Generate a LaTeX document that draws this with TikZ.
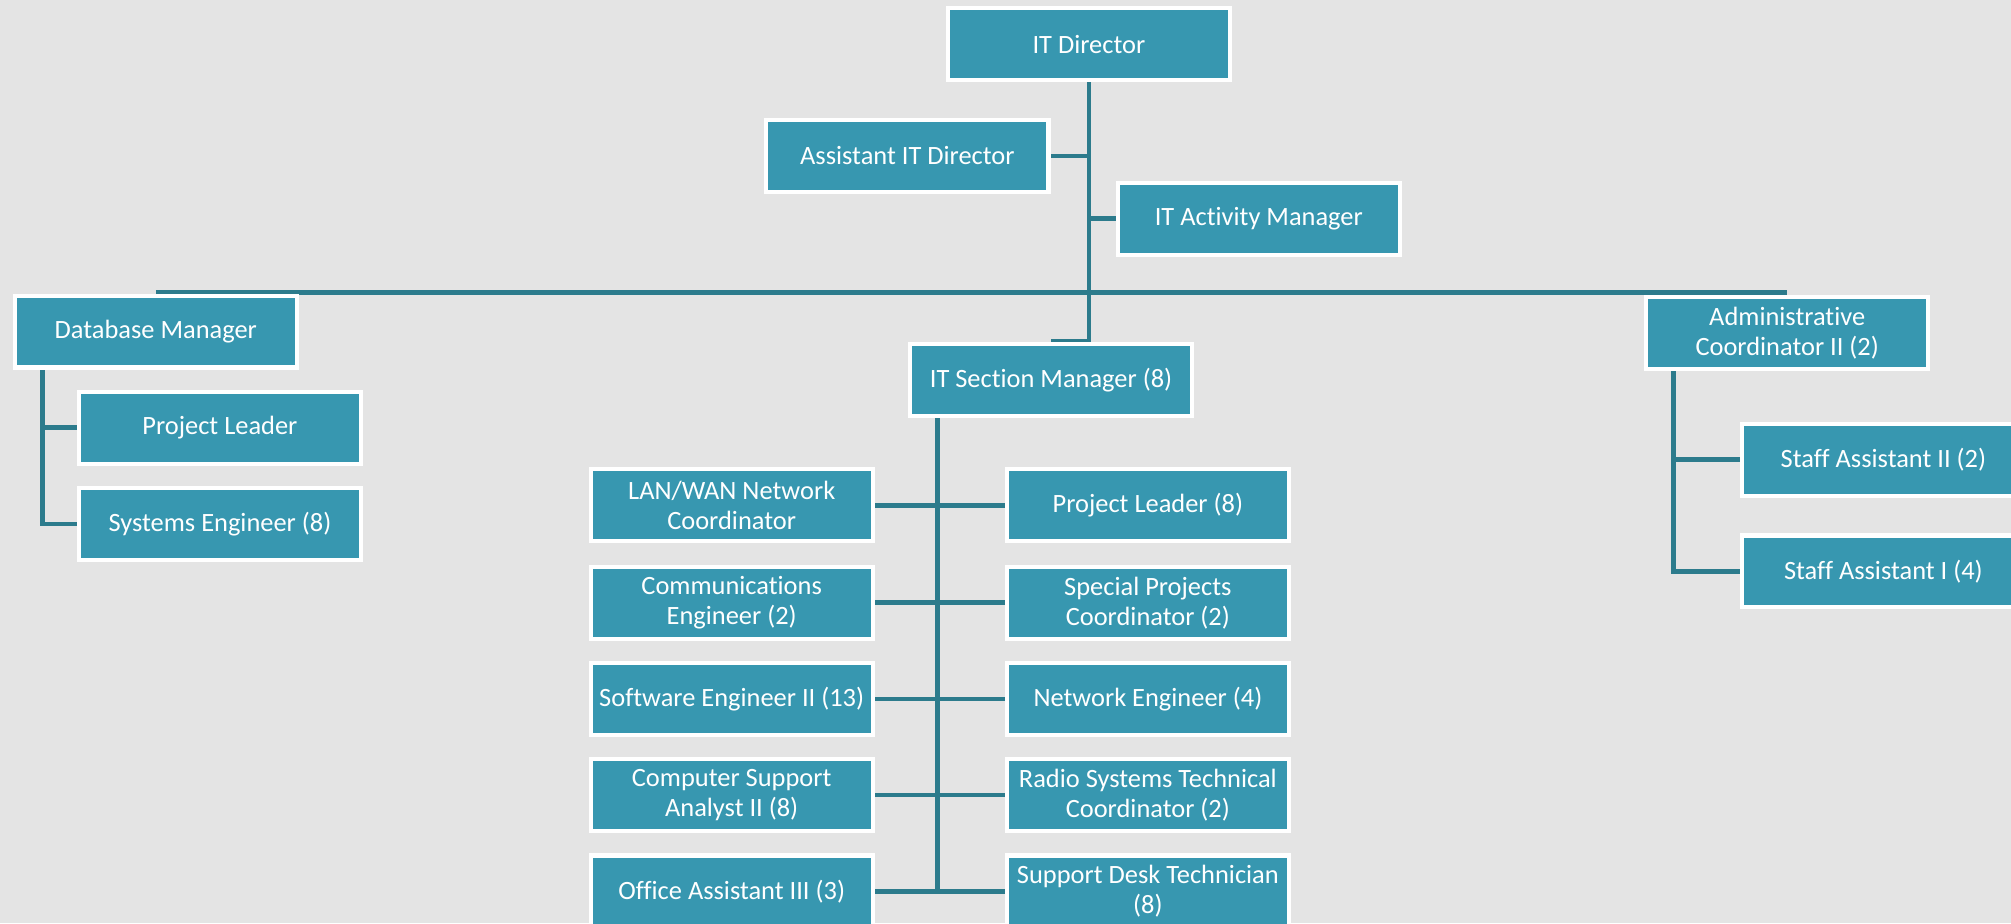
\documentclass[tikz,border=0pt]{standalone}
\usepackage{fontspec}
\setmainfont{Carlito}[Ligatures=NoCommon]
\definecolor{boxteal}{HTML}{3797B0}
\definecolor{lineteal}{HTML}{2C7B8C}
\definecolor{bggray}{HTML}{E4E4E4}
\pgfdeclarelayer{bg}
\pgfdeclarelayer{lines}
\pgfsetlayers{bg,lines,main}
\tikzset{
  orgbox/.style={draw=white, line width=1.6pt, fill=boxteal, text=white,
    minimum width=110pt, minimum height=28pt, inner sep=0pt, align=center,
    font=\fontsize{10.3}{11.6}\selectfont},
  conn/.style={draw=lineteal, line width=1.8pt}
}
\begin{document}
\begin{tikzpicture}[x=0.5pt,y=-0.5pt]
\useasboundingbox (0,0) rectangle (1568,720);
\clip (0,0) rectangle (1568,720);
\begin{pgfonlayer}{bg}
\fill[bggray] (0,0) rectangle (1568,720);
\end{pgfonlayer}

\node[orgbox] (dir)  at (849,34.5)   {IT Director};
\node[orgbox] (asst) at (707.5,121.5) {Assistant IT Director};
\node[orgbox] (act)  at (981.5,170.5) {IT Activity Manager};
\node[orgbox] (db)   at (121.5,258.5) {Database Manager};
\node[orgbox] (sec)  at (819.5,296)   {IT Section Manager (8)};
\node[orgbox] (adm)  at (1393.5,259.5) {Administrative\\Coordinator II (2)};
\node[orgbox] (pl1)  at (171.5,333.5) {Project Leader};
\node[orgbox] (se1)  at (171.5,408.5) {Systems Engineer (8)};
\node[orgbox] (sa2)  at (1468.5,358.5) {Staff Assistant II (2)};
\node[orgbox] (sa1)  at (1468.5,445.5) {Staff Assistant I (4)};

\node[orgbox] (l1) at (570.5,394) {LAN/WAN Network\\Coordinator};
\node[orgbox] (l2) at (570.5,470) {Communications\\Engineer (2)};
\node[orgbox] (l3) at (570.5,545) {Software Engineer II (13)};
\node[orgbox] (l4) at (570.5,620) {Computer Support\\Analyst II (8)};
\node[orgbox] (l5) at (570.5,695) {Office Assistant III (3)};
\node[orgbox] (r1) at (895,394) {Project Leader (8)};
\node[orgbox] (r2) at (895,470) {Special Projects\\Coordinator (2)};
\node[orgbox] (r3) at (895,545) {Network Engineer (4)};
\node[orgbox] (r4) at (895,620) {Radio Systems Technical\\Coordinator (2)};
\node[orgbox] (r5) at (895,695) {Support Desk Technician\\(8)};

\coordinate (bus) at (849,228);
\path (db.south west) ++(23,0) coordinate (dbx);
\path (adm.south west) ++(23,0) coordinate (admx);
\path (sec.south west) ++(23,0) coordinate (secx);

\begin{pgfonlayer}{lines}
\draw[conn] (dir.south) |- (sec.north);
\draw[conn] (asst.east) -- (asst.east -| dir.south);
\draw[conn] (act.west) -- (act.west -| dir.south);
\draw[conn] (db.north |- bus) -- (adm.north |- bus);
\draw[conn] (dbx) |- (se1.west);
\draw[conn] (pl1.west) -- (pl1.west -| dbx);
\draw[conn] (admx) |- (sa1.west);
\draw[conn] (sa2.west) -- (sa2.west -| admx);
\draw[conn] (secx) -- (secx |- l5.east);
\draw[conn] (l1.east) -- (r1.west);
\draw[conn] (l2.east) -- (r2.west);
\draw[conn] (l3.east) -- (r3.west);
\draw[conn] (l4.east) -- (r4.west);
\draw[conn] (l5.east) -- (r5.west);
\end{pgfonlayer}
\end{tikzpicture}
\end{document}
